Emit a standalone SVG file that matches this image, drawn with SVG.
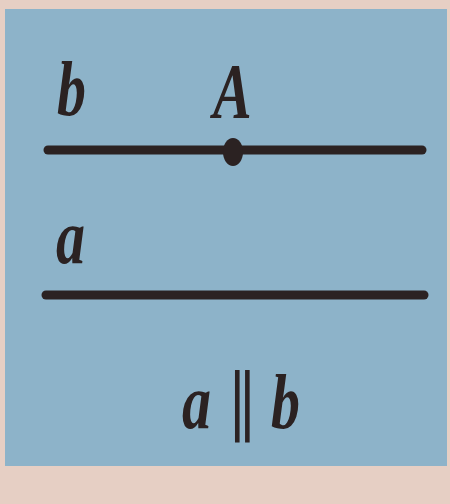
<svg xmlns="http://www.w3.org/2000/svg" width="450" height="504" viewBox="0 0 450 504">
<style>
.lbl{font-family:"Liberation Serif","Times New Roman",serif;font-style:italic;font-weight:bold;font-size:58px;fill:#2b2222}
.ln{stroke:#2b2222;stroke-width:9;stroke-linecap:round;fill:none}
</style>
<rect x="0" y="0" width="450" height="504" fill="#e6cfc4"/>
<rect x="5" y="9" width="442" height="457" fill="#8db3c9"/>
<g id="connectors">
<line id="line-b" class="ln" x1="48" y1="150" x2="422" y2="150"/>
<line id="line-a" class="ln" x1="46" y1="295" x2="424" y2="295"/>
</g>
<g id="point-A">
<ellipse cx="233" cy="152" rx="10" ry="14" fill="#2b2222"/>
<text class="lbl" transform="translate(213,117) scale(1,1.35)">A</text>
</g>
<g id="label-b"><text class="lbl" transform="translate(57,115) scale(1,1.35)">b</text></g>
<g id="label-a"><text class="lbl" transform="translate(56,263) scale(1,1.35)">a</text></g>
<g id="caption">
<text class="lbl" transform="translate(182,428) scale(1,1.35)">a<tspan x="47" dy="5" font-style="normal" font-weight="normal" font-family="DejaVu Serif, serif">∥</tspan><tspan x="89" dy="-5">b</tspan></text>
</g>
</svg>
